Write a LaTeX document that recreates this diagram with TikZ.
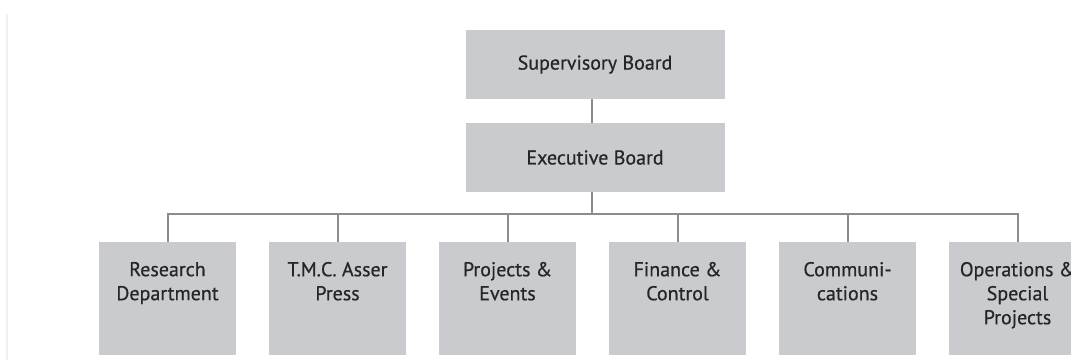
\documentclass[tikz,border=0pt]{standalone}
\usepackage{fontspec}
\newfontfamily\labfont[FakeBold=0.6]{PT Sans}
\definecolor{boxfill}{HTML}{C9CBCE}
\definecolor{linegray}{HTML}{8C8C8C}
\definecolor{txtgray}{HTML}{262626}
\definecolor{edgegray}{HTML}{F0F0F0}
\begin{document}
\begin{tikzpicture}[x=1pt,y=-1pt,
  topbox/.style={fill=boxfill,draw=none,minimum width=259pt,minimum height=69pt,inner sep=0pt,
    font=\labfont\fontsize{20}{24}\selectfont,text=txtgray},
  deptbox/.style={fill=boxfill,draw=none,minimum width=137pt,minimum height=113pt,inner sep=0pt},
  depttext/.style={anchor=north,inner sep=0pt,align=center,text=txtgray,
    font=\labfont\fontsize{20}{24}\selectfont},
  conn/.style={draw=linegray,line width=2pt}]
\useasboundingbox (0,0) rectangle (1071,360);
\clip (0,0) rectangle (1071,360);
\fill[white] (0,0) rectangle (1071,360);
\draw[edgegray,line width=1.5pt] (7,14) -- (7,360);
% top boxes
\node[topbox] (sb) at (595,64.5) {Supervisory Board};
\node[topbox] (eb) at (595,157.5) {Executive Board};
\coordinate (bus) at (592,213.5);
% departments
\node[deptbox] (rd) at (167.5,298.5) {};
\node[deptbox] (tp) at (337.5,298.5) {};
\node[deptbox] (pe) at (507.5,298.5) {};
\node[deptbox] (fc) at (677.5,298.5) {};
\node[deptbox] (cm) at (847.5,298.5) {};
\node[deptbox] (op) at (1017.5,298.5) {};
% connectors
\draw[conn] (sb.south -| bus) -- (eb.north -| bus);
\draw[conn] (eb.south -| bus) -- (bus);
\draw[conn] (rd.north) -- (rd.north |- bus) -- (op.north |- bus) -- (op.north);
\draw[conn] (tp.north) -- (tp.north |- bus);
\draw[conn] (pe.north) -- (pe.north |- bus);
\draw[conn] (fc.north) -- (fc.north |- bus);
\draw[conn] (cm.north) -- (cm.north |- bus);
% labels
\node[depttext] (rdt) at ([yshift=-20pt]rd.north) {Research\\Department};
\node[depttext] (tpt) at ([yshift=-20pt]tp.north) {T.M.C. Asser\\Press};
\node[depttext] (pet) at ([yshift=-20pt]pe.north) {Projects \&\\Events};
\node[depttext] (fct) at ([yshift=-20pt]fc.north) {Finance \&\\Control};
\node[depttext] (cmt) at ([yshift=-20pt]cm.north) {Communi-\\cations};
\node[depttext] (opt) at ([yshift=-20pt]op.north) {Operations \&\\Special\\Projects};
\end{tikzpicture}
\end{document}
